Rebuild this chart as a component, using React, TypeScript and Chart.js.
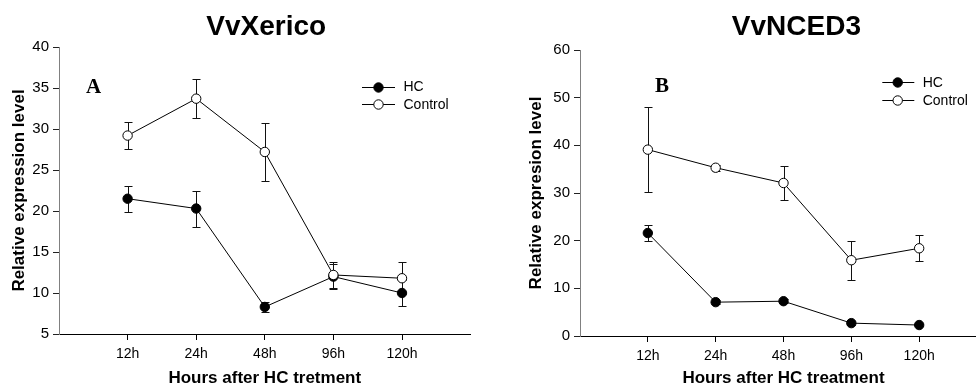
import { useEffect, useRef } from "react";
import { Chart, registerables } from "chart.js";

Chart.register(...registerables);

// Sampling times shared by both panels
const timePoints = ["12h", "24h", "48h", "96h", "120h"];

// Panel A: VvXerico
const xericoHC = [21.5, 20.3, 8.3, 12.0, 10.0];
const xericoHCErr = [1.6, 2.2, 0.65, 1.5, 1.6];
const xericoControl = [29.2, 33.7, 27.2, 12.2, 11.8];
const xericoControlErr = [1.6, 2.4, 3.5, 1.6, 1.95];

// Panel B: VvNCED3
const ncedHC = [21.6, 7.1, 7.3, 2.7, 2.3];
const ncedHCErr = [1.7, 0.4, 0.4, 0.4, 0.3];
const ncedControl = [39.1, 35.3, 32.1, 15.9, 18.4];
const ncedControlErr = [8.9, 0.6, 3.5, 4.1, 2.7];

const SANS = "'Liberation Sans', Arial, sans-serif";
const SERIF = "'Liberation Serif', 'Times New Roman', serif";

type PanelSpec = {
  title: string;
  letter: string;
  xTitle: string;
  yTitle: string;
  yMin: number;
  yMax: number;
  yStep: number;
  hc: number[];
  hcErr: number[];
  control: number[];
  controlErr: number[];
  // layout of the canvas and decorations (pixels)
  canvasLeft: number;
  canvasWidth: number;
  yAxisWidth: number;
  padTop: number;
  padRight: number;
  xAxisHeight: number;
  yTitlePad: number;
  titleX: number; // x-scale value the title is centred on
  letterOffset: [number, number];
  legendOffset: { lineStart: number; lineEnd: number; marker: number; text: number; rows: [number, number] };
};

const panels: PanelSpec[] = [
  {
    title: "VvXerico",
    letter: "A",
    xTitle: "Hours after HC tretment",
    yTitle: "Relative expression level",
    yMin: 5,
    yMax: 40,
    yStep: 5,
    hc: xericoHC,
    hcErr: xericoHCErr,
    control: xericoControl,
    controlErr: xericoControlErr,
    canvasLeft: 0,
    canvasWidth: 488,
    yAxisWidth: 59,
    padTop: 47,
    padRight: 17.4,
    xAxisHeight: 55,
    yTitlePad: 9,
    titleX: 3.02,
    letterOffset: [27, 45.5],
    legendOffset: { lineStart: 303, lineEnd: 336, marker: 319.5, text: 344.5, rows: [39.5, 56.8] },
  },
  {
    title: "VvNCED3",
    letter: "B",
    xTitle: "Hours after HC treatment",
    yTitle: "Relative expresion level",
    yMin: 0,
    yMax: 60,
    yStep: 10,
    hc: ncedHC,
    hcErr: ncedHCErr,
    control: ncedControl,
    controlErr: ncedControlErr,
    canvasLeft: 488,
    canvasWidth: 530,
    yAxisWidth: 92,
    padTop: 50,
    padRight: 31,
    xAxisHeight: 53,
    yTitlePad: 38,
    titleX: 3.19,
    letterOffset: [75, 42],
    legendOffset: { lineStart: 302.3, lineEnd: 334.3, marker: 317.7, text: 342.7, rows: [31.7, 50] },
  },
];

const CAP_HALF = 4;
const MARKER_R = 4.7;

// Vertical mean ± error whiskers, drawn underneath the line markers
const errorBarPlugin = {
  id: "errorBars",
  beforeDatasetsDraw(chart: any) {
    const ctx = chart.ctx;
    const yScale = chart.scales.y;
    ctx.save();
    ctx.strokeStyle = "#111";
    ctx.lineWidth = 1;
    chart.data.datasets.forEach((ds: any, di: number) => {
      const meta = chart.getDatasetMeta(di);
      meta.data.forEach((pt: any, i: number) => {
        const v = ds.data[i].y;
        const e = ds.errors[i];
        const x = Math.round(pt.x) + 0.5;
        const yTop = Math.round(yScale.getPixelForValue(v + e)) + 0.5;
        const yBot = Math.round(yScale.getPixelForValue(v - e)) + 0.5;
        ctx.beginPath();
        ctx.moveTo(x, yTop);
        ctx.lineTo(x, yBot);
        ctx.moveTo(x - CAP_HALF, yTop);
        ctx.lineTo(x + CAP_HALF, yTop);
        ctx.moveTo(x - CAP_HALF, yBot);
        ctx.lineTo(x + CAP_HALF, yBot);
        ctx.stroke();
      });
    });
    ctx.restore();
  },
};

// Gene title, panel letter and the in-plot key
const decorationsPlugin = {
  id: "decorations",
  afterDraw(chart: any) {
    const spec: PanelSpec = chart.options.plugins.decorations.spec;
    const { ctx, chartArea } = chart;
    const xScale = chart.scales.x;
    ctx.save();

    ctx.fillStyle = "#000";
    ctx.font = `bold 28px ${SANS}`;
    ctx.textAlign = "center";
    ctx.textBaseline = "alphabetic";
    ctx.fillText(spec.title, xScale.getPixelForValue(spec.titleX), 35);

    ctx.font = `bold 21px ${SERIF}`;
    ctx.textAlign = "left";
    ctx.fillText(spec.letter, chartArea.left + spec.letterOffset[0], chartArea.top + spec.letterOffset[1]);

    const lg = spec.legendOffset;
    const entries = [
      { label: "HC", fill: "#000" },
      { label: "Control", fill: "#fff" },
    ];
    entries.forEach((en, i) => {
      const y = chartArea.top + lg.rows[i];
      ctx.strokeStyle = "#000";
      ctx.lineWidth = 1;
      ctx.beginPath();
      ctx.moveTo(chartArea.left + lg.lineStart, Math.round(y) + 0.5);
      ctx.lineTo(chartArea.left + lg.lineEnd, Math.round(y) + 0.5);
      ctx.stroke();
      ctx.beginPath();
      ctx.arc(chartArea.left + lg.marker, Math.round(y) + 0.5, MARKER_R, 0, Math.PI * 2);
      ctx.fillStyle = en.fill;
      ctx.fill();
      ctx.stroke();
      ctx.fillStyle = "#000";
      ctx.font = `14px ${SANS}`;
      ctx.textBaseline = "middle";
      ctx.fillText(en.label, chartArea.left + lg.text, y + 1);
    });

    ctx.restore();
  },
};

function Panel({ spec }: { spec: PanelSpec }) {
  const ref = useRef<HTMLCanvasElement | null>(null);

  useEffect(() => {
    if (!ref.current) return;
    const toPoints = (vals: number[]) => vals.map((y, i) => ({ x: i + 1, y }));
    const chart = new Chart(ref.current, {
      type: "line",
      data: {
        datasets: [
          {
            label: "HC",
            data: toPoints(spec.hc),
            errors: spec.hcErr,
            borderColor: "#000",
            borderWidth: 1,
            pointRadius: MARKER_R,
            pointBorderWidth: 1,
            pointBorderColor: "#000",
            pointBackgroundColor: "#000",
            order: 1,
          } as any,
          {
            label: "Control",
            data: toPoints(spec.control),
            errors: spec.controlErr,
            borderColor: "#000",
            borderWidth: 1,
            pointRadius: MARKER_R,
            pointBorderWidth: 1,
            pointBorderColor: "#000",
            pointBackgroundColor: "#fff",
            order: 0,
          } as any,
        ],
      },
      options: {
        responsive: false,
        animation: false,
        devicePixelRatio: 1,
        layout: { padding: { top: spec.padTop, right: spec.padRight, left: 0, bottom: 0 } },
        plugins: {
          legend: { display: false },
          tooltip: { enabled: false },
          decorations: { spec },
        } as any,
        scales: {
          x: {
            type: "linear",
            min: 0,
            max: 6,
            afterBuildTicks: (scale: any) => {
              scale.ticks = timePoints.map((_, i) => ({ value: i + 1 }));
            },
            afterFit: (scale: any) => {
              scale.height = spec.xAxisHeight;
            },
            ticks: {
              autoSkip: false,
              maxRotation: 0,
              padding: 6,
              color: "#000",
              font: { family: SANS, size: 14 },
              callback: (v: any) => timePoints[Math.round(Number(v)) - 1] ?? "",
            },
            grid: { drawOnChartArea: false, tickLength: 6, tickColor: "#000" },
            border: { color: "#000", width: 1 },
            title: {
              display: true,
              text: spec.xTitle,
              color: "#000",
              font: { family: SANS, size: 17, weight: "bold" },
              padding: { top: 0, bottom: 0 },
            },
          },
          y: {
            type: "linear",
            min: spec.yMin,
            max: spec.yMax,
            afterFit: (scale: any) => {
              scale.width = spec.yAxisWidth;
            },
            ticks: {
              stepSize: spec.yStep,
              padding: 4,
              color: "#000",
              font: { family: SANS, size: 15 },
            },
            grid: { drawOnChartArea: false, tickLength: 6, tickColor: "#222" },
            border: { color: "#808080", width: 1 },
            title: {
              display: true,
              text: spec.yTitle,
              color: "#000",
              font: { family: SANS, size: 17, weight: "bold" },
              padding: { top: spec.yTitlePad, bottom: 0 },
            },
          },
        },
      } as any,
      plugins: [errorBarPlugin, decorationsPlugin],
    });
    return () => chart.destroy();
  }, [spec]);

  return (
    <canvas
      ref={ref}
      width={spec.canvasWidth}
      height={389}
      style={{ position: "absolute", left: spec.canvasLeft, top: 0, display: "block" }}
    />
  );
}

export default function App() {
  return (
    <div
      style={{
        position: "fixed",
        left: 0,
        top: 0,
        width: 976,
        height: 389,
        overflow: "hidden",
        background: "#fff",
      }}
    >
      {panels.map((p) => (
        <Panel key={p.title} spec={p} />
      ))}
    </div>
  );
}
